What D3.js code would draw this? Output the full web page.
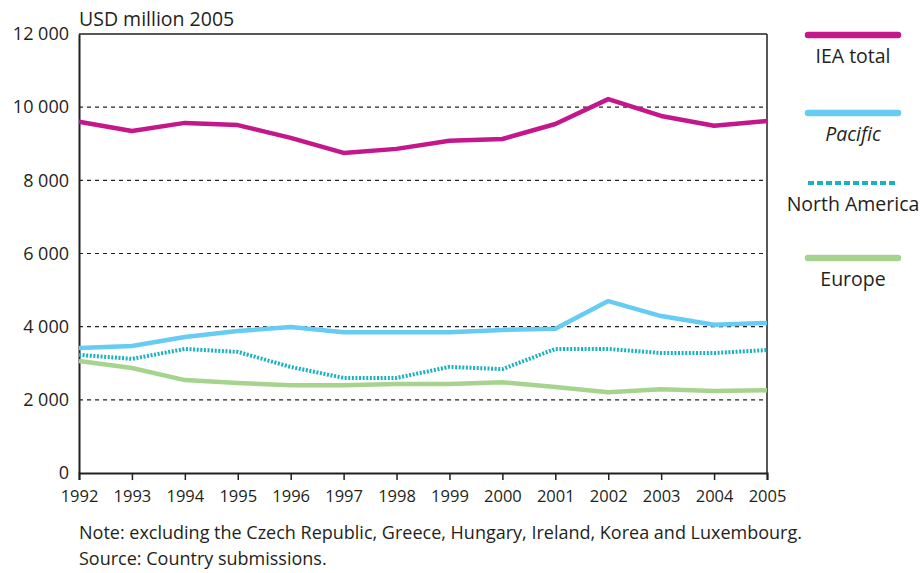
<!DOCTYPE html>
<html>
<head>
<meta charset="utf-8">
<script src="https://cdn.jsdelivr.net/npm/d3@7"></script>
<style>
  body { margin: 0; background: #fff; }
  svg text { font-family: "Open Sans", sans-serif; fill: #231f20; }
</style>
</head>
<body>
<svg id="chart" width="923" height="573"></svg>
<script>
var years = [1992, 1993, 1994, 1995, 1996, 1997, 1998, 1999, 2000, 2001, 2002, 2003, 2004, 2005];

var ieaTotal     = [9600, 9350, 9570, 9510, 9160, 8750, 8860, 9080, 9130, 9540, 10220, 9760, 9490, 9620];
var pacific      = [3420, 3470, 3720, 3880, 3990, 3850, 3850, 3850, 3910, 3940, 4700, 4290, 4050, 4100];
var northAmerica = [3230, 3120, 3390, 3310, 2900, 2600, 2600, 2900, 2840, 3390, 3390, 3280, 3280, 3360];
var europe       = [3060, 2870, 2540, 2460, 2400, 2400, 2430, 2430, 2480, 2350, 2210, 2290, 2240, 2260];

var yTicks = [0, 2000, 4000, 6000, 8000, 10000, 12000];
var gridTicks = [2000, 4000, 6000, 8000, 10000];

var seriesNames = ["IEA total", "Pacific", "North America", "Europe"];

var series = [
    {name: seriesNames[0], values: ieaTotal,     color: "#c4178c", width: 4.5, dash: null,    legDash: null,  italic: false},
    {name: seriesNames[1], values: pacific,      color: "#66ccf4", width: 4.5, dash: null,    legDash: null,  italic: true},
    {name: seriesNames[2], values: northAmerica, color: "#19b2c0", width: 4,   dash: "2,1.6", legDash: "6,3", italic: false},
    {name: seriesNames[3], values: europe,       color: "#a6d48e", width: 4.5, dash: null,    legDash: null,  italic: false}
];

var margin = {top: 34, left: 79, right: 156, bottom: 100};
var width = 923 - margin.left - margin.right,
    height = 573 - margin.top - margin.bottom;

var svg = d3.select("#chart");
var g = svg.append("g").attr("transform", "translate(" + margin.left + "," + margin.top + ")");

var x = d3.scaleLinear().domain([1992, 2005]).range([0, width]);
var y = d3.scaleLinear().domain([0, 12000]).range([height, 0]);

function fmt(v) {
    return d3.format(",")(v).replace(/,/g, " ");
}

// dashed grid
g.append("g").selectAll("line")
    .data(gridTicks)
    .enter().append("line")
    .attr("x1", 0).attr("x2", width)
    .attr("y1", function(d) { return y(d); })
    .attr("y2", function(d) { return y(d); })
    .attr("stroke", "#231f20")
    .attr("stroke-width", 1.2)
    .attr("stroke-dasharray", "4,4");

// box top + right
g.append("line").attr("x1", 0).attr("x2", width).attr("y1", 0).attr("y2", 0)
    .attr("stroke", "#231f20").attr("stroke-width", 1.5);
g.append("line").attr("x1", width).attr("x2", width).attr("y1", 0).attr("y2", height)
    .attr("stroke", "#231f20").attr("stroke-width", 1.5);

// y axis
var yAxis = g.append("g")
    .call(d3.axisLeft(y).tickValues(yTicks).tickSize(0).tickPadding(10).tickFormat(fmt));
yAxis.select(".domain").attr("stroke", "#231f20").attr("stroke-width", 2);
yAxis.selectAll("text").style("font-size", "18px").attr("fill", "#231f20");

// x axis
var xAxis = g.append("g")
    .attr("transform", "translate(0," + height + ")")
    .call(d3.axisBottom(x).tickValues(years).tickSize(7).tickPadding(10).tickFormat(d3.format("d")));
xAxis.select(".domain").attr("stroke", "#231f20").attr("stroke-width", 2);
xAxis.selectAll(".tick line").attr("stroke", "#231f20").attr("stroke-width", 1.5);
xAxis.selectAll("text").style("font-size", "16.5px").attr("fill", "#231f20");

// lines
var line = d3.line()
    .x(function(d, i) { return x(years[i]); })
    .y(function(d) { return y(d); });

g.append("g").selectAll("path")
    .data(series.slice().reverse())
    .enter().append("path")
    .attr("d", function(s) { return line(s.values); })
    .attr("fill", "none")
    .attr("stroke", function(s) { return s.color; })
    .attr("stroke-width", function(s) { return s.width; })
    .attr("stroke-linejoin", "round")
    .attr("stroke-dasharray", function(s) { return s.dash; });

// unit label
svg.append("text")
    .attr("x", 79).attr("y", 26)
    .style("font-size", "19.5px")
    .text("USD million 2005");

// legend
var legY = [35, 113, 183, 258];
var leg = svg.append("g").selectAll("g")
    .data(series)
    .enter().append("g")
    .attr("transform", function(d, i) { return "translate(853," + legY[i] + ")"; });

leg.append("line")
    .attr("x1", -45).attr("x2", 45)
    .attr("stroke", function(d) { return d.color; })
    .attr("stroke-width", function(d) { return d.legDash ? 4 : 6.5; })
    .attr("stroke-linecap", function(d) { return d.legDash ? "butt" : "round"; })
    .attr("stroke-dasharray", function(d) { return d.legDash; });

leg.append("text")
    .attr("y", 28)
    .attr("text-anchor", "middle")
    .style("font-size", "19.5px")
    .style("font-style", function(d) { return d.italic ? "italic" : "normal"; })
    .text(function(d) { return d.name; });

// notes
svg.append("text").attr("x", 79).attr("y", 539).style("font-size", "18px")
    .text("Note: excluding the Czech Republic, Greece, Hungary, Ireland, Korea and Luxembourg.");
svg.append("text").attr("x", 79).attr("y", 565).style("font-size", "18px")
    .text("Source: Country submissions.");
</script>
</body>
</html>
